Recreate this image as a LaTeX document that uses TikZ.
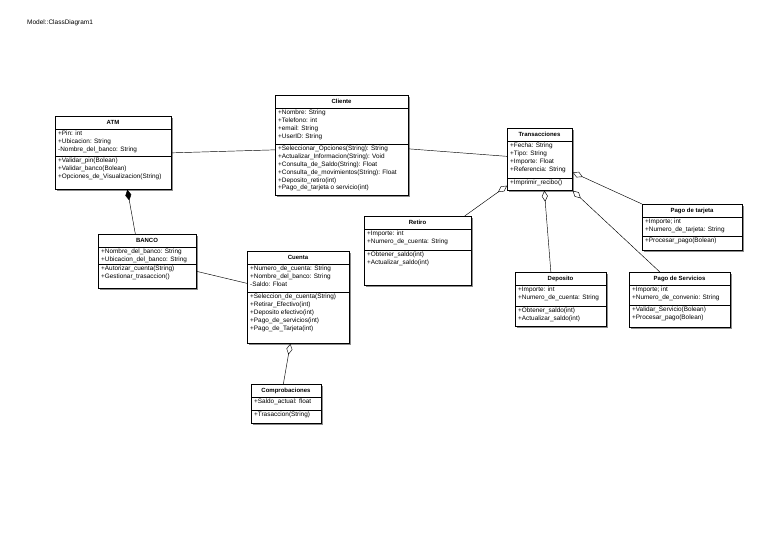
\documentclass[tikz,border=0pt]{standalone}
\usepackage{fontspec}
\setmainfont{Liberation Sans}
\usetikzlibrary{arrows.meta}
\usetikzlibrary{calc}
\usetikzlibrary{shadows}

\tikzset{
  classbox/.style={draw, fill=white, line width=0.7pt, anchor=north west, inner sep=0pt,
    drop shadow={shadow xshift=1.2pt, shadow yshift=-1.2pt, fill=black!45, opacity=1}},
  classtitle/.style={font=\bfseries\fontsize{6}{7}\selectfont, inner sep=0pt},
  members/.style={anchor=north west, align=left, inner sep=0pt, font=\fontsize{6.4}{7.8}\selectfont},
  assoc/.style={line width=0.45pt},
  aggr/.style={line width=0.45pt, {Diamond[open,fill=white,length=11pt,width=6pt]}-},
  comp/.style={line width=0.45pt, {Diamond[length=11pt,width=6pt]}-}
}

% name, x, y, width, height, title, attributes, attribute block height, operations
\newcommand{\umlclass}[9]{%
  \node[classbox, minimum width=#4pt, minimum height=#5pt] (#1) at (#2,#3) {};
  \node[classtitle] (#1-name) at (#2+#4/2,#3+6.5) {#6};
  \draw[line width=0.7pt] (#2,#3+13) -- ++(#4,0);
  \node[members] (#1-attr) at (#2+3,#3+15) {#7};
  \draw[line width=0.7pt] (#2,#3+13+#8) -- ++(#4,0);
  \node[members] (#1-ops) at (#2+3,#3+15+#8) {#9};
}

\begin{document}
\begin{tikzpicture}[x=1pt, y=-1pt]
    \useasboundingbox (0,0) rectangle (768,543);
    \node[anchor=west, font=\fontsize{6.5}{7}\selectfont, inner sep=0pt] (diagram) at (27,23) {Model::ClassDiagram1};

    \umlclass{atm}{55}{116}{116}{73}{ATM}
      {+Pin: int\\+Ubicacion: String\\-Nombre\_del\_banco: String}{27}
      {+Validar\_pin(Bolean)\\+Validar\_banco(Bolean)\\+Opciones\_de\_Visualizacion(String)}
    \umlclass{cliente}{275}{95}{133}{100}{Cliente}
      {+Nombre: String\\+Telefono: int\\+email: String\\+UserID: String}{36}
      {+Seleccionar\_Opciones(String): String\\+Actualizar\_Informacion(String): Void\\+Consulta\_de\_Saldo(String): Float\\+Consulta\_de\_movimientos(String): Float\\+Deposito\_retiro(int)\\+Pago\_de\_tarjeta o servicio(int)}
    \umlclass{trans}{507}{128}{65}{62}{Transacciones}
      {+Fecha: String\\+Tipo: String\\+Importe: Float\\+Referencia: String}{37}
      {+Imprimir\_recibo()}
    \umlclass{banco}{98}{234}{98}{54}{BANCO}
      {+Nombre\_del\_banco: String\\+Ubicacion\_del\_banco: String}{17}
      {+Autorizar\_cuenta(String)\\+Gestionar\_trasaccion()}
    \umlclass{cuenta}{247}{251}{102}{92}{Cuenta}
      {+Numero\_de\_cuenta: String\\+Nombre\_del\_banco: String\\-Saldo: Float}{28}
      {+Seleccion\_de\_cuenta(String)\\+Retirar\_Efectivo(int)\\+Deposito efectivo(int)\\+Pago\_de\_servicios(int)\\+Pago\_de\_Tarjeta(int)}
    \umlclass{retiro}{364}{216}{107}{69}{Retiro}
      {+Importe: int\\+Numero\_de\_cuenta: String}{21}
      {+Obtener\_saldo(int)\\+Actualizar\_saldo(int)}
    \umlclass{deposito}{515}{272}{91}{54}{Deposito}
      {+Importe: int\\+Numero\_de\_cuenta: String}{21}
      {+Obtener\_saldo(int)\\+Actualizar\_saldo(int)}
    \umlclass{tarjeta}{642}{204}{100}{46}{Pago de tarjeta}
      {+Importe; int\\+Numero\_de\_tarjeta: String}{19}
      {+Procesar\_pago(Bolean)}
    \umlclass{servicios}{629}{272}{101}{55}{Pago de Servicios}
      {+Importe; int\\+Numero\_de\_convenio: String}{20}
      {+Validar\_Servicio(Bolean)\\+Procesar\_pago(Bolean)}
    \umlclass{comprob}{251}{384}{70}{39}{Comprobaciones}
      {+Saldo\_actual: float}{13}
      {+Trasaccion(String)}

    \draw[assoc] (atm.east) -- ([yshift=-4.5pt]cliente.west);
    \draw[assoc] ([yshift=-3.5pt]cliente.east) -- ([yshift=3pt]trans.west);
    \draw[comp] ([xshift=14pt]atm.south) -- ([xshift=-12pt]banco.north);
    \draw[assoc] ([yshift=-10pt]banco.east) -- ([yshift=14pt]cuenta.west);
    \draw[aggr] ([xshift=-8pt]cuenta.south) -- ([xshift=-3pt]comprob.north);
    \draw[aggr] ([yshift=5pt]trans.south west) -- ([xshift=-7pt]retiro.north east);
    \draw[aggr] ([xshift=4.5pt]trans.south) -- ([xshift=-10pt]deposito.north);
    \draw[aggr] (trans.south east) -- ([xshift=-20pt]servicios.north);
    \draw[aggr] ([yshift=-13pt]trans.east) -- (tarjeta.north west);
\end{tikzpicture}
\end{document}
